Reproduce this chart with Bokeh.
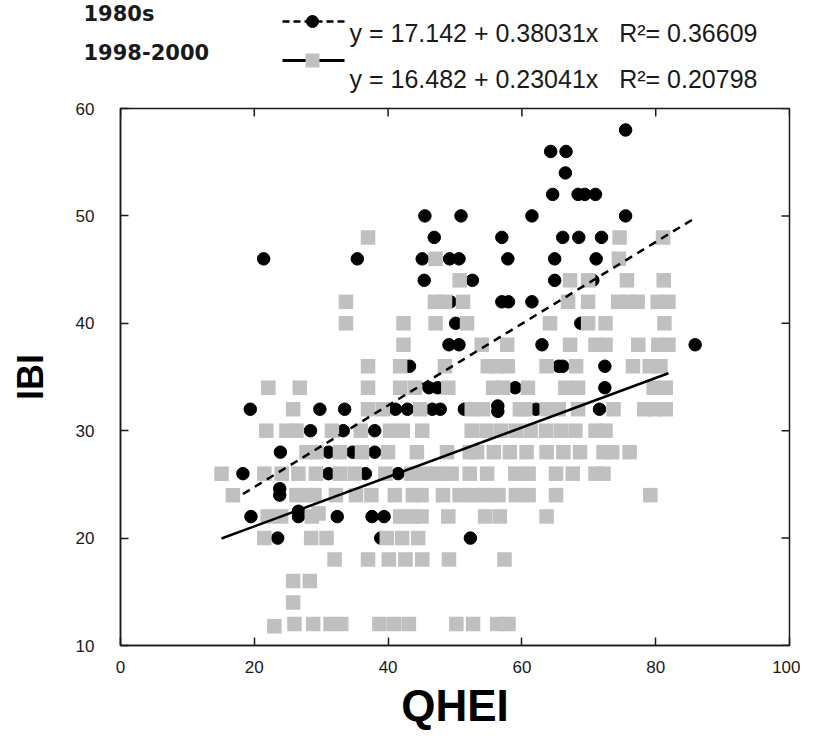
import numpy as np
from bokeh.plotting import figure
from bokeh.models import Range1d, FixedTicker
from bokeh.embed import file_html
from bokeh.resources import INLINE
from bokeh.core.properties import value

# ---- 1980s sites (QHEI, IBI) ----
q_1980 = [75.5,
          64.3, 66.6,
          66.5,
          64.6, 68.4, 69.4, 71.0,
          45.5, 50.9, 61.5, 75.5,
          46.9, 57.0, 66.1, 68.5, 71.9,
          21.4, 35.4, 45.1, 49.2, 50.6, 57.9, 64.9, 71.1,
          45.4, 52.6, 64.9, 70.6,
          49.3, 57.0, 58.0, 61.5,
          50.1, 68.8,
          49.1, 50.6, 63.0, 85.9,
          43.2, 65.5, 66.1, 72.4,
          46.1, 47.4, 59.0, 72.4,
          19.4, 29.8, 33.5, 41.1, 42.9, 46.6, 47.8, 51.4, 56.4, 56.4, 62.1, 71.6,
          28.4, 33.3, 38.0,
          23.9, 31.1, 34.7, 38.0,
          18.3, 31.1, 36.6, 41.5,
          23.8, 23.8,
          19.5, 26.6, 26.6, 32.4, 37.6, 39.4,
          23.5, 38.9, 52.3]
ibi_1980 = [58,
            56, 56,
            54,
            52, 52, 52, 52,
            50, 50, 50, 50,
            48, 48, 48, 48, 48,
            46, 46, 46, 46, 46, 46, 46, 46,
            44, 44, 44, 44,
            42, 42, 42, 42,
            40, 40,
            38, 38, 38, 38,
            36, 36, 36, 36,
            34, 34, 34, 34,
            32, 32, 32, 32, 32, 32, 32, 32, 32.3, 31.8, 32, 32,
            30, 30, 30,
            28, 28, 28, 28,
            26, 26, 26, 26,
            24, 24.6,
            22, 22, 22.5, 22, 22, 22,
            20, 20, 20]

# ---- 1998-2000 sites (QHEI, IBI) ----
q_1998 = [37.0, 74.6, 81.1,
          47.1, 74.5,
          50.7, 67.2, 69.9, 75.7, 81.2,
          33.7, 47.0, 48.5, 51.2, 66.9, 69.9, 74.4, 75.9, 77.3, 80.3, 81.9,
          33.7, 42.3, 47.1, 51.8, 64.2, 69.9, 72.5, 81.3,
          42.3, 54.0, 57.8, 67.2, 71.0, 72.5, 77.4, 80.4, 81.9,
          37.0, 41.8, 48.5, 54.9, 56.4, 57.9, 63.7, 68.1, 76.6, 79.1, 80.7,
          22.1, 26.8, 37.0, 41.8, 44.0, 49.0, 55.7, 57.2, 60.9, 66.5, 68.4, 79.7, 81.5,
          25.8, 37.0, 39.2, 44.8, 52.5, 54.2, 59.7, 60.5, 63.7, 65.5, 68.4, 73.7, 78.3, 79.9, 81.5,
          21.8, 24.8, 26.3, 31.6, 35.9, 40.3, 42.2, 45.1, 52.5, 54.7, 56.9, 59.1, 61.3, 63.6, 65.8, 68.0, 71.0, 72.5,
          27.8, 29.3, 32.8, 36.1, 40.0, 44.3, 48.8, 52.2, 53.3, 55.8, 58.2, 60.7, 63.7, 66.2, 68.7, 72.2, 73.5, 76.1,
          15.1, 21.5, 24.1, 26.6, 29.2, 32.8, 35.0, 39.6, 43.5, 45.5, 47.5, 49.5, 52.2, 54.8, 59.0, 61.0, 65.1, 67.6, 71.0, 72.2,
          16.8, 26.3, 27.6, 29.0, 32.2, 35.2, 37.5, 41.0, 43.7, 45.0, 48.2, 50.7, 52.6, 54.6, 56.5, 59.1, 61.0, 65.1, 79.2,
          22.0, 24.0, 28.6, 29.6, 41.8, 43.6, 45.0, 49.0, 54.5, 56.7, 63.7,
          21.5, 28.5, 30.8, 39.8, 42.1, 44.5,
          32.0, 37.0, 40.1, 42.6, 45.1, 49.1, 57.4,
          25.8, 28.3,
          25.8,
          23.0, 26.0, 28.8, 31.4, 33.0, 38.7, 40.9, 43.1, 50.2, 52.7, 56.3, 58.0]
ibi_1998 = [48, 48, 48,
            46, 46,
            44, 44, 44, 44, 44,
            42, 42, 42, 42, 42, 42, 42, 42, 42, 42, 42,
            40, 40, 40, 40, 40, 40, 40, 40,
            38, 38, 38, 38, 38, 38, 38, 38, 38,
            36, 36, 36, 36, 36, 36, 36, 36, 36, 36, 36,
            34, 34, 34, 34, 34, 34, 34, 34, 34, 34, 34, 34, 34,
            32, 32, 32, 32, 32, 32, 32, 32, 32, 32, 32, 32, 32, 32, 32,
            30, 30, 30, 30, 30, 30, 30, 30, 30, 30, 30, 30, 30, 30, 30, 30, 30, 30,
            28, 28, 28, 28, 28, 28, 28, 28, 28, 28, 28, 28, 28, 28, 28, 28, 28, 28,
            26, 26, 26, 26, 26, 26, 26, 26, 26, 26, 26, 26, 26, 26, 26, 26, 26, 26, 26, 26,
            24, 24, 24, 24, 24, 24, 24, 24, 24, 24, 24, 24, 24, 24, 24, 24, 24, 24, 24,
            22, 22, 22, 22.3, 22, 22, 22, 22, 22, 22, 22,
            20, 20, 20, 20, 20, 20,
            18, 18, 18, 18, 18, 18, 18,
            16, 16,
            14,
            11.8, 12, 12, 12, 12, 12, 12, 12, 12, 12, 12, 12]

# ---- regression results printed on the chart ----
fit_1980 = {"b0": 17.142, "b1": 0.38031, "r2": 0.36609}
fit_1998 = {"b0": 16.482, "b1": 0.23041, "r2": 0.20798}
series_names = ["1980s", "1998-2000"]

x_ticks = [0, 20, 40, 60, 80, 100]
y_ticks = [10, 20, 30, 40, 50, 60]

SANS = "Liberation Sans"
WIDE_BOLD = "DejaVu Sans"
GRAY = "#c0c0c0"
INK = "#1a1a1a"

# page geometry (px)
W = 800
BORDER_L, BORDER_R = 120, 11
FRAME_W = W - BORDER_L - BORDER_R
HDR_H = 100
MAIN_H, BORDER_T, BORDER_B = 637, 8, 92
FRAME_H = MAIN_H - BORDER_T - BORDER_B
TICK_LEN = 8


def eq_text(f):
    return "y = %s + %sx\u00a0\u00a0 R\u00b2= %s" % (f["b0"], f["b1"], f["r2"])

# ---------------- header (legend rows); its coordinates are page pixels ----------------
hdr = figure(width=W, height=HDR_H, x_range=Range1d(8, 8 + W), y_range=Range1d(8 + HDR_H, 8),
             toolbar_location=None, output_backend="svg", x_axis_type=None, y_axis_type=None,
             min_border=0)
hdr.outline_line_color = None
hdr.grid.visible = False

row_label_y = [21, 59]
row_line_y = [29, 68]
row_eq_y = [40, 86]
hdr.text(x=[91, 91], y=row_label_y, text=series_names, text_font=value(WIDE_BOLD),
         text_font_style="bold", text_font_size="21px", text_baseline="middle",
         text_align="left", text_color=INK)
hdr.line([290, 352], [row_line_y[0]] * 2, line_color="black", line_width=2.5, line_dash="7 4")
hdr.scatter([320], [row_line_y[0]], marker="circle", size=12, color="black")
hdr.line([290, 352], [row_line_y[1]] * 2, line_color="black", line_width=3)
hdr.scatter([320], [row_line_y[1]], marker="square", size=14, fill_color=GRAY, line_color=None)
hdr.text(x=[357, 357], y=row_eq_y, text=[eq_text(fit_1980), eq_text(fit_1998)],
         text_font=value(SANS), text_font_size="25px", text_baseline="middle",
         text_align="left", text_color=INK)

# ---------------- main scatter ----------------
p = figure(width=W, height=MAIN_H, x_range=Range1d(0, 100), y_range=Range1d(10, 60),
           toolbar_location=None, output_backend="svg",
           min_border_left=BORDER_L, min_border_right=BORDER_R,
           min_border_top=BORDER_T, min_border_bottom=BORDER_B)
p.grid.visible = False
p.outline_line_color = INK
p.outline_line_width = 1.5

p.scatter(q_1980, ibi_1980, marker="circle", size=12.5, color="black")
p.scatter(q_1998, ibi_1998, marker="square", size=14.5, fill_color=GRAY, line_color=None)

for qs, fit, dash in [(q_1980, fit_1980, "8 6"), (q_1998, fit_1998, "solid")]:
    xs = np.array([min(qs), max(qs)])
    ys = fit["b0"] + fit["b1"] * xs
    p.line(xs, ys, line_color="black", line_width=2.5, line_dash=dash)

# inward ticks on the top and right edges (mirror of the labelled axes)
dy = TICK_LEN * 50.0 / FRAME_H
dx = TICK_LEN * 100.0 / FRAME_W
p.segment(x0=x_ticks, y0=[60] * len(x_ticks), x1=x_ticks, y1=[60 - dy] * len(x_ticks),
          line_color=INK, line_width=1.5)
p.segment(x0=[100] * len(y_ticks), y0=y_ticks, x1=[100 - dx] * len(y_ticks), y1=y_ticks,
          line_color=INK, line_width=1.5)

xa = p.xaxis[0]
ya = p.yaxis[0]
xa.ticker = FixedTicker(ticks=x_ticks)
ya.ticker = FixedTicker(ticks=y_ticks)
for ax in (xa, ya):
    ax.axis_line_color = INK
    ax.axis_line_width = 1.5
    ax.major_tick_line_color = INK
    ax.major_tick_line_width = 1.5
    ax.major_tick_in = TICK_LEN
    ax.major_tick_out = 0
    ax.minor_tick_in = 0
    ax.minor_tick_out = 0
    ax.major_label_text_font = SANS
    ax.major_label_text_font_size = "17px"
    ax.major_label_text_color = INK
    ax.axis_label_text_font = SANS
    ax.axis_label_text_font_style = "bold"
    ax.axis_label_text_color = "black"

xa.axis_label = "QHEI"
xa.axis_label_text_font_size = "44px"
xa.major_label_standoff = 15
xa.axis_label_standoff = 5
ya.axis_label = "IBI"
ya.axis_label_text_font_size = "36px"
ya.major_label_standoff = 26
ya.axis_label_standoff = 22

open("out.html", "w").write(file_html([hdr, p], INLINE))
